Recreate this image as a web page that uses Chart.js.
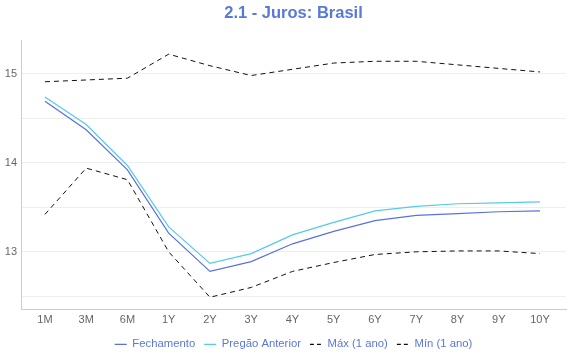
<!DOCTYPE html>
<html>
<head>
<meta charset="utf-8">
<script src="https://cdn.jsdelivr.net/npm/chart.js@4"></script>
<style>
html,body{margin:0;padding:0;background:#fff;}
#wrap{width:570px;height:360px;}
</style>
</head>
<body>
<div id="wrap"><canvas id="c" width="570" height="360"></canvas></div>
<script>
const categories = ['1M','3M','6M','1Y','2Y','3Y','4Y','5Y','6Y','7Y','8Y','9Y','10Y'];
const fechamento = [14.69,14.37,13.92,13.21,12.78,12.89,13.09,13.23,13.35,13.41,13.43,13.45,13.46];
const pregaoAnterior = [14.74,14.43,13.97,13.28,12.87,12.98,13.19,13.33,13.46,13.51,13.54,13.55,13.56];
const maxAno = [14.91,14.93,14.95,15.22,15.09,14.98,15.05,15.12,15.14,15.14,15.10,15.06,15.02];
const minAno = [13.42,13.94,13.81,13.00,12.49,12.60,12.78,12.88,12.97,13.00,13.01,13.01,12.98];
const yTickLabels = ['13','14','15'];

const toXY = arr => arr.map((v,i)=>({x:i,y:v}));
const mk = (label, data, color, dash, width) => ({
  label, data: toXY(data), borderColor: color, backgroundColor: color,
  borderWidth: width, borderDash: dash, pointRadius: 0, pointHoverRadius: 0,
  tension: 0, fill: false, pointStyle: 'line'
});

const FONT = 'Liberation Sans, Arial, sans-serif';

new Chart(document.getElementById('c'), {
  type: 'line',
  data: {
    datasets: [
      mk('Fechamento', fechamento, '#5a72d9', [], 1.2),
      mk('Pregão Anterior', pregaoAnterior, '#55cbe8', [], 1.2),
      mk('Máx (1 ano)', maxAno, '#111111', [5,4], 1),
      mk('Mín (1 ano)', minAno, '#111111', [5,4], 1)
    ]
  },
  options: {
    responsive: false,
    animation: false,
    layout: { padding: { left: 0, right: 4, top: 4, bottom: 0 } },
    plugins: {
      title: {
        display: true, fullSize: false, text: '2.1 - Juros: Brasil', color: '#5a78d6',
        font: { family: FONT, size: 16.5, weight: 'bold' },
        padding: { top: 0, bottom: 17 }
      },
      legend: {
        position: 'bottom', fullSize: false,
        labels: {
          color: '#5a78d6', usePointStyle: true, pointStyleWidth: 12, boxHeight: 11,
          font: { family: FONT, size: 11.3 },
          padding: 9,
          generateLabels: chart => {
            const items = Chart.defaults.plugins.legend.labels.generateLabels(chart);
            items.forEach(it => {
              const ds = chart.data.datasets[it.datasetIndex];
              it.lineDash = ds.borderDash && ds.borderDash.length ? [4, 3] : [];
              it.strokeStyle = ds.borderColor;
              it.lineWidth = 1.2;
            });
            return items;
          }
        }
      },
      tooltip: { enabled: false }
    },
    scales: {
      x: {
        type: 'linear', min: -0.58, max: 12.63,
        afterBuildTicks: s => { s.ticks = categories.map((_, i) => ({ value: i })); },
        ticks: {
          autoSkip: false, maxRotation: 0, padding: 4, color: '#666',
          font: { family: FONT, size: 11 },
          callback: v => categories[v]
        },
        grid: { display: false, drawTicks: false },
        border: { display: true, color: '#cccccc' },
        afterFit: s => { s.height = 20; }
      },
      y: {
        min: 12.35, max: 15.37,
        ticks: {
          stepSize: 0.5, includeBounds: false, padding: 4, color: '#666',
          font: { family: FONT, size: 11 },
          callback: v => (yTickLabels.includes(String(v)) ? String(v) : '')
        },
        grid: { color: '#eeeeee', drawTicks: false },
        border: { display: true, color: '#cccccc' },
        afterFit: s => { s.width = 21; }
      }
    }
  }
});
</script>
</body>
</html>
